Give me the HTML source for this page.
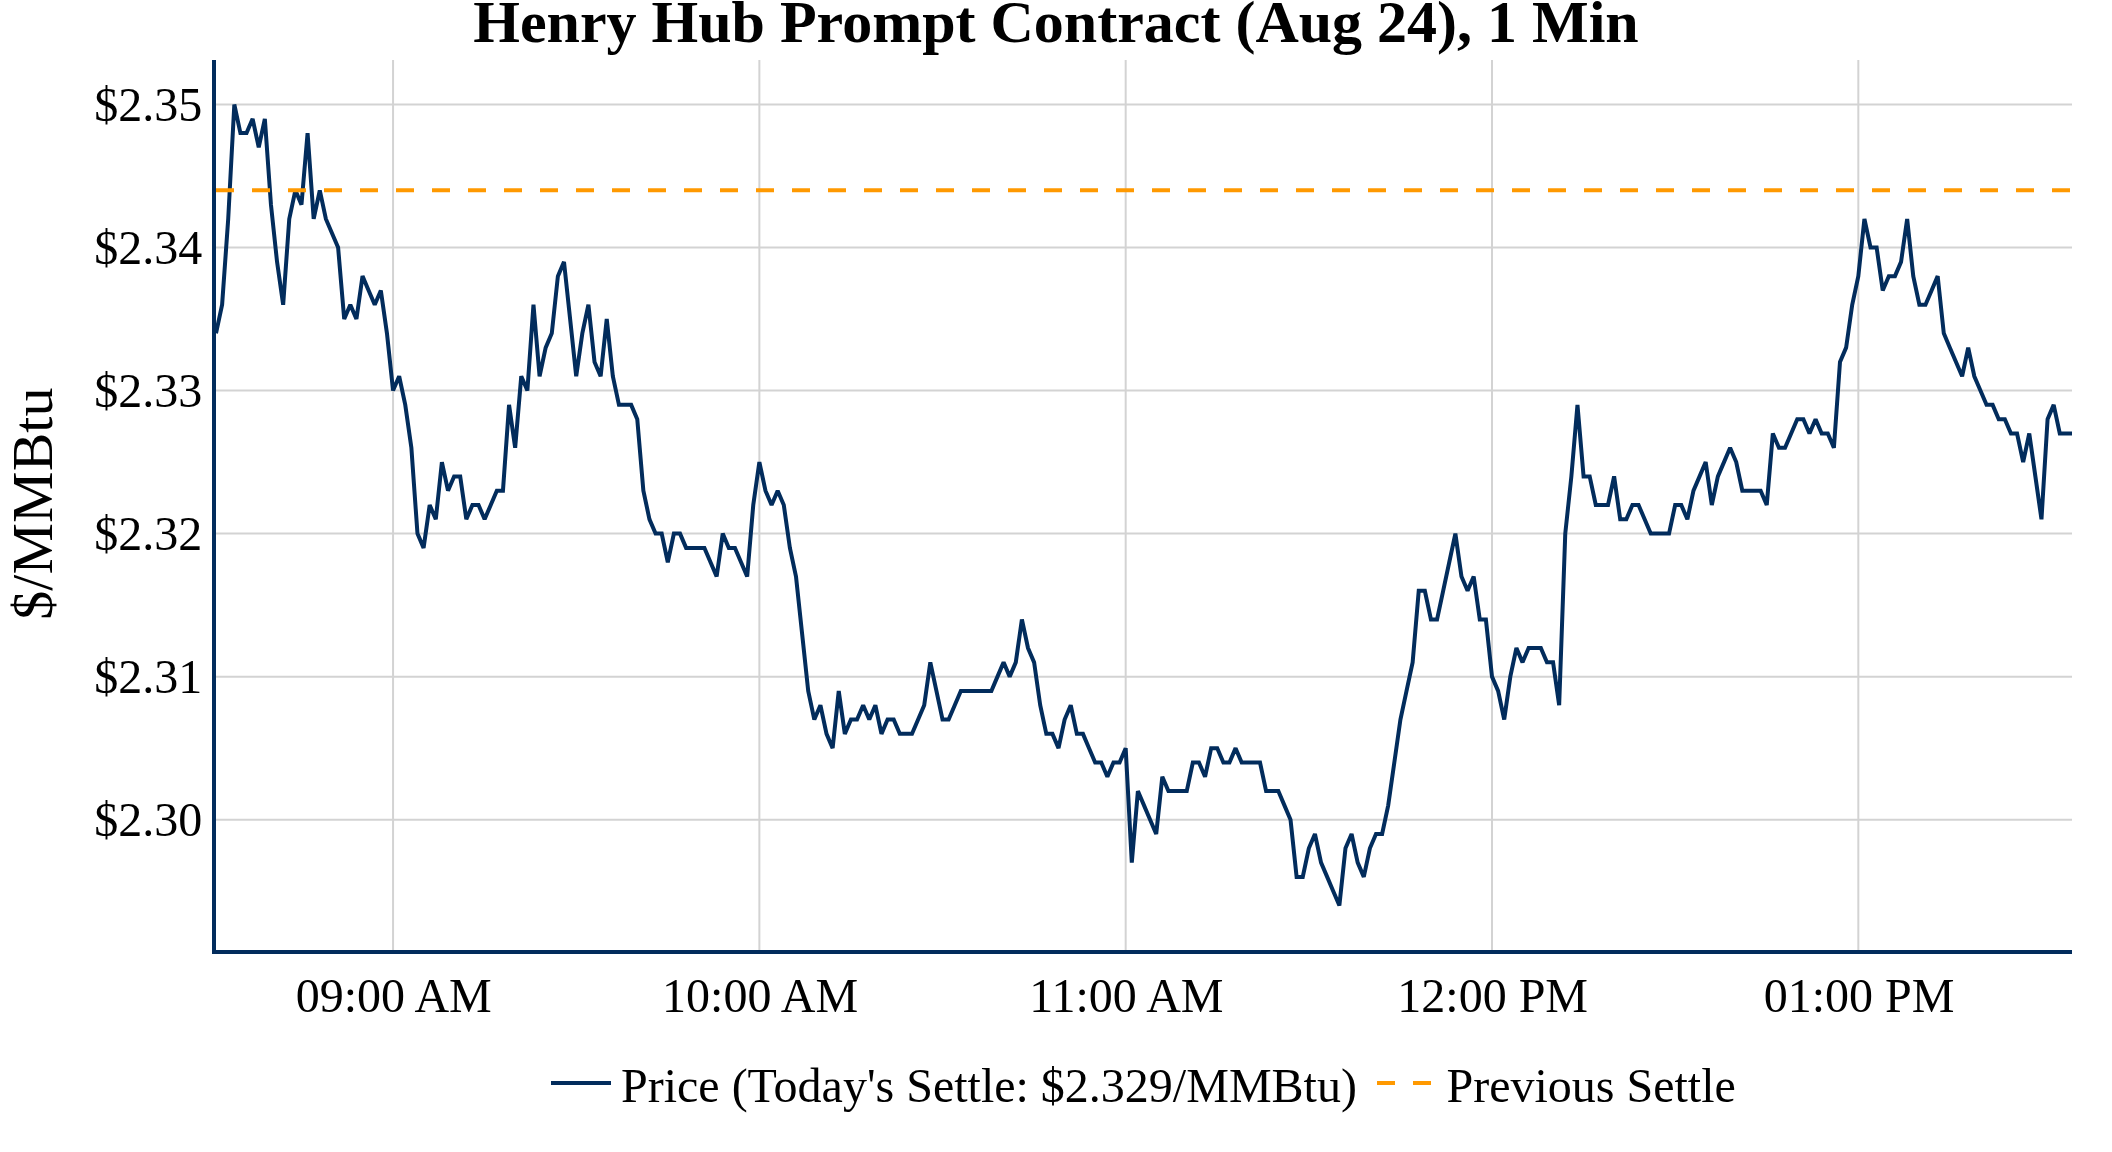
<!DOCTYPE html>
<html><head><meta charset="utf-8">
<style>
html,body{margin:0;padding:0;background:#fff;}
body{width:2112px;height:1152px;overflow:hidden;}
svg{display:block;will-change:transform;font-family:"Liberation Serif",serif;}
</style></head>
<body>
<svg width="2112" height="1152" viewBox="0 0 2112 1152">
<rect width="2112" height="1152" fill="#fff"/>
<defs><clipPath id="pc"><rect x="216.0" y="60.0" width="1856.0" height="890.0"/></clipPath></defs>
<line x1="216.0" x2="2072.0" y1="104.50" y2="104.50" stroke="#d3d3d3" stroke-width="2"/>
<line x1="216.0" x2="2072.0" y1="247.54" y2="247.54" stroke="#d3d3d3" stroke-width="2"/>
<line x1="216.0" x2="2072.0" y1="390.57" y2="390.57" stroke="#d3d3d3" stroke-width="2"/>
<line x1="216.0" x2="2072.0" y1="533.61" y2="533.61" stroke="#d3d3d3" stroke-width="2"/>
<line x1="216.0" x2="2072.0" y1="676.64" y2="676.64" stroke="#d3d3d3" stroke-width="2"/>
<line x1="216.0" x2="2072.0" y1="819.68" y2="819.68" stroke="#d3d3d3" stroke-width="2"/>
<line x1="393.05" x2="393.05" y1="60.0" y2="950.0" stroke="#d3d3d3" stroke-width="2"/>
<line x1="759.37" x2="759.37" y1="60.0" y2="950.0" stroke="#d3d3d3" stroke-width="2"/>
<line x1="1125.68" x2="1125.68" y1="60.0" y2="950.0" stroke="#d3d3d3" stroke-width="2"/>
<line x1="1492.00" x2="1492.00" y1="60.0" y2="950.0" stroke="#d3d3d3" stroke-width="2"/>
<line x1="1858.32" x2="1858.32" y1="60.0" y2="950.0" stroke="#d3d3d3" stroke-width="2"/>
<g clip-path="url(#pc)">
<polyline fill="none" stroke="#022c5c" stroke-width="4" stroke-linejoin="miter" stroke-miterlimit="2" points="216.00,333.36 222.11,304.75 228.21,218.93 234.32,104.50 240.42,133.11 246.53,133.11 252.63,118.80 258.74,147.41 264.84,118.80 270.95,204.63 277.05,261.84 283.16,304.75 289.26,218.93 295.37,190.32 301.47,204.63 307.58,133.11 313.68,218.93 319.79,190.32 325.89,218.93 332.00,233.23 338.11,247.54 344.21,319.05 350.32,304.75 356.42,319.05 362.53,276.14 368.63,290.45 374.74,304.75 380.84,290.45 386.95,333.36 393.05,390.57 399.16,376.27 405.26,404.87 411.37,447.79 417.47,533.61 423.58,547.91 429.68,505.00 435.79,519.30 441.89,462.09 448.00,490.70 454.11,476.39 460.21,476.39 466.32,519.30 472.42,505.00 478.53,505.00 484.63,519.30 490.74,505.00 496.84,490.70 502.95,490.70 509.05,404.87 515.16,447.79 521.26,376.27 527.37,390.57 533.47,304.75 539.58,376.27 545.68,347.66 551.79,333.36 557.89,276.14 564.00,261.84 570.11,319.05 576.21,376.27 582.32,333.36 588.42,304.75 594.53,361.96 600.63,376.27 606.74,319.05 612.84,376.27 618.95,404.87 625.05,404.87 631.16,404.87 637.26,419.18 643.37,490.70 649.47,519.30 655.58,533.61 661.68,533.61 667.79,562.21 673.89,533.61 680.00,533.61 686.11,547.91 692.21,547.91 698.32,547.91 704.42,547.91 710.53,562.21 716.63,576.52 722.74,533.61 728.84,547.91 734.95,547.91 741.05,562.21 747.16,576.52 753.26,505.00 759.37,462.09 765.47,490.70 771.58,505.00 777.68,490.70 783.79,505.00 789.89,547.91 796.00,576.52 802.11,633.73 808.21,690.95 814.32,719.55 820.42,705.25 826.53,733.86 832.63,748.16 838.74,690.95 844.84,733.86 850.95,719.55 857.05,719.55 863.16,705.25 869.26,719.55 875.37,705.25 881.47,733.86 887.58,719.55 893.68,719.55 899.79,733.86 905.89,733.86 912.00,733.86 918.11,719.55 924.21,705.25 930.32,662.34 936.42,690.95 942.53,719.55 948.63,719.55 954.74,705.25 960.84,690.95 966.95,690.95 973.05,690.95 979.16,690.95 985.26,690.95 991.37,690.95 997.47,676.64 1003.58,662.34 1009.68,676.64 1015.79,662.34 1021.89,619.43 1028.00,648.04 1034.11,662.34 1040.21,705.25 1046.32,733.86 1052.42,733.86 1058.53,748.16 1064.63,719.55 1070.74,705.25 1076.84,733.86 1082.95,733.86 1089.05,748.16 1095.16,762.46 1101.26,762.46 1107.37,776.77 1113.47,762.46 1119.58,762.46 1125.68,748.16 1131.79,862.59 1137.89,791.07 1144.00,805.37 1150.11,819.68 1156.21,833.98 1162.32,776.77 1168.42,791.07 1174.53,791.07 1180.63,791.07 1186.74,791.07 1192.84,762.46 1198.95,762.46 1205.05,776.77 1211.16,748.16 1217.26,748.16 1223.37,762.46 1229.47,762.46 1235.58,748.16 1241.68,762.46 1247.79,762.46 1253.89,762.46 1260.00,762.46 1266.11,791.07 1272.21,791.07 1278.32,791.07 1284.42,805.37 1290.53,819.68 1296.63,876.89 1302.74,876.89 1308.84,848.29 1314.95,833.98 1321.05,862.59 1327.16,876.89 1333.26,891.20 1339.37,905.50 1345.47,848.29 1351.58,833.98 1357.68,862.59 1363.79,876.89 1369.89,848.29 1376.00,833.98 1382.11,833.98 1388.21,805.37 1394.32,762.46 1400.42,719.55 1406.53,690.95 1412.63,662.34 1418.74,590.82 1424.84,590.82 1430.95,619.43 1437.05,619.43 1443.16,590.82 1449.26,562.21 1455.37,533.61 1461.47,576.52 1467.58,590.82 1473.68,576.52 1479.79,619.43 1485.89,619.43 1492.00,676.64 1498.11,690.95 1504.21,719.55 1510.32,676.64 1516.42,648.04 1522.53,662.34 1528.63,648.04 1534.74,648.04 1540.84,648.04 1546.95,662.34 1553.05,662.34 1559.16,705.25 1565.26,533.61 1571.37,476.39 1577.47,404.87 1583.58,476.39 1589.68,476.39 1595.79,505.00 1601.89,505.00 1608.00,505.00 1614.11,476.39 1620.21,519.30 1626.32,519.30 1632.42,505.00 1638.53,505.00 1644.63,519.30 1650.74,533.61 1656.84,533.61 1662.95,533.61 1669.05,533.61 1675.16,505.00 1681.26,505.00 1687.37,519.30 1693.47,490.70 1699.58,476.39 1705.68,462.09 1711.79,505.00 1717.89,476.39 1724.00,462.09 1730.11,447.79 1736.21,462.09 1742.32,490.70 1748.42,490.70 1754.53,490.70 1760.63,490.70 1766.74,505.00 1772.84,433.48 1778.95,447.79 1785.05,447.79 1791.16,433.48 1797.26,419.18 1803.37,419.18 1809.47,433.48 1815.58,419.18 1821.68,433.48 1827.79,433.48 1833.89,447.79 1840.00,361.96 1846.11,347.66 1852.21,304.75 1858.32,276.14 1864.42,218.93 1870.53,247.54 1876.63,247.54 1882.74,290.45 1888.84,276.14 1894.95,276.14 1901.05,261.84 1907.16,218.93 1913.26,276.14 1919.37,304.75 1925.47,304.75 1931.58,290.45 1937.68,276.14 1943.79,333.36 1949.89,347.66 1956.00,361.96 1962.11,376.27 1968.21,347.66 1974.32,376.27 1980.42,390.57 1986.53,404.87 1992.63,404.87 1998.74,419.18 2004.84,419.18 2010.95,433.48 2017.05,433.48 2023.16,462.09 2029.26,433.48 2035.37,476.39 2041.47,519.30 2047.58,419.18 2053.68,404.87 2059.79,433.48 2065.89,433.48 2072.00,433.48"/>
<line x1="216.0" x2="2072.0" y1="190.32" y2="190.32" stroke="#ff9900" stroke-width="4" stroke-dasharray="18,18"/>
</g>
<rect x="212" y="60" width="4" height="894" fill="#022c5c"/>
<rect x="212" y="950" width="1860.0" height="4" fill="#022c5c"/>
<g font-size="48" fill="#000">
<text x="202.2" y="120.50" text-anchor="end">$2.35</text>
<text x="202.2" y="263.54" text-anchor="end">$2.34</text>
<text x="202.2" y="406.57" text-anchor="end">$2.33</text>
<text x="202.2" y="549.61" text-anchor="end">$2.32</text>
<text x="202.2" y="692.64" text-anchor="end">$2.31</text>
<text x="202.2" y="835.68" text-anchor="end">$2.30</text>
<text x="393.75" y="1011.7" text-anchor="middle">09:00 AM</text>
<text x="760.07" y="1011.7" text-anchor="middle">10:00 AM</text>
<text x="1126.38" y="1011.7" text-anchor="middle">11:00 AM</text>
<text x="1492.70" y="1011.7" text-anchor="middle">12:00 PM</text>
<text x="1859.02" y="1011.7" text-anchor="middle">01:00 PM</text>
</g>
<text x="1056" y="42" text-anchor="middle" font-size="60" font-weight="bold" fill="#000">Henry Hub Prompt Contract (Aug 24), 1 Min</text>
<text transform="translate(51.8,503.6) rotate(-90)" text-anchor="middle" font-size="58" fill="#000">$/MMBtu</text>
<line x1="551" x2="611" y1="1083" y2="1083" stroke="#022c5c" stroke-width="4"/>
<text x="621" y="1102" font-size="48" fill="#000">Price (Today's Settle: $2.329/MMBtu)</text>
<line x1="1377" x2="1437" y1="1083" y2="1083" stroke="#ff9900" stroke-width="4" stroke-dasharray="18,18"/>
<text x="1446.5" y="1102" font-size="48" fill="#000">Previous Settle</text>
</svg>
</body></html>
